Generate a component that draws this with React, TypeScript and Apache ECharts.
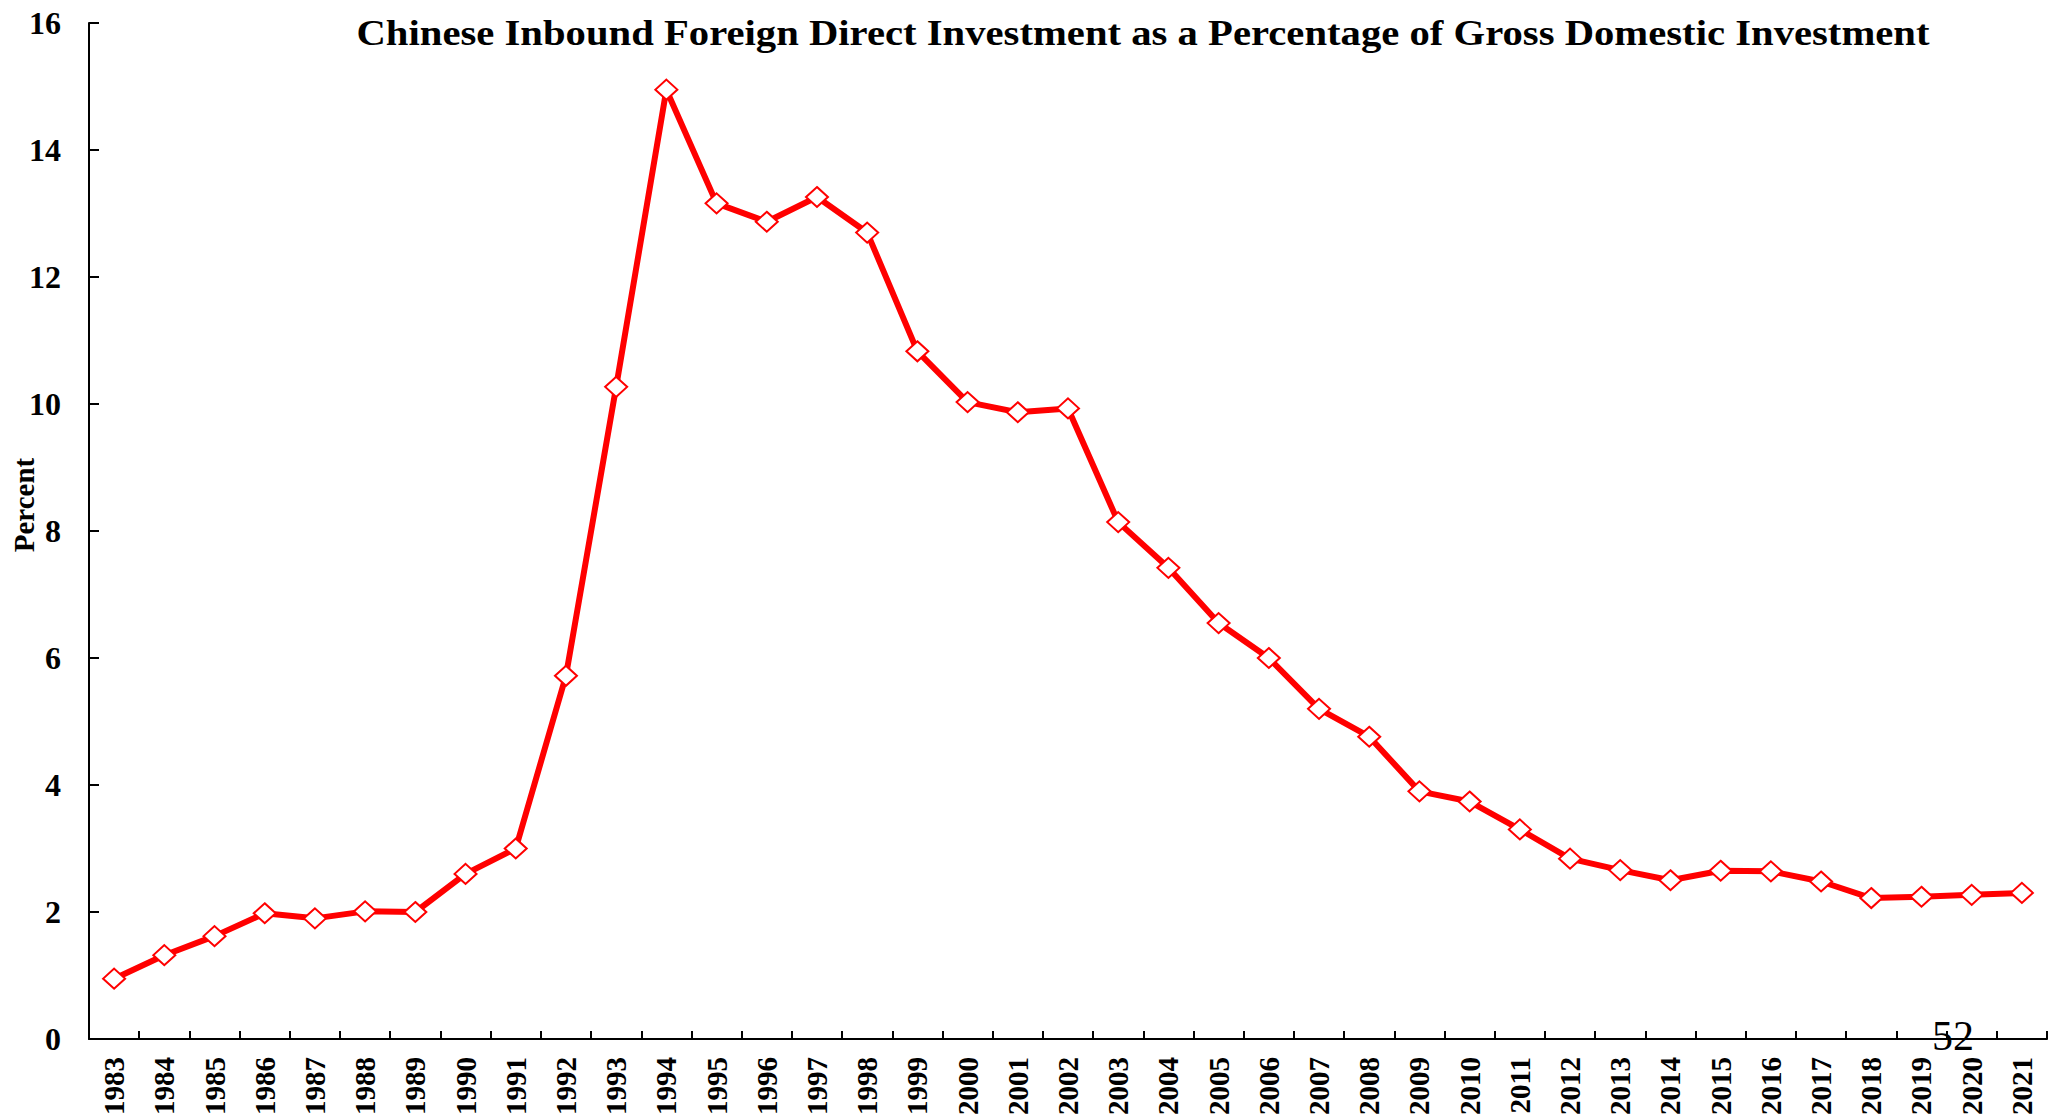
import React, { useEffect, useRef } from "react";
import * as echarts from "echarts";

const years: string[] = [
  "1983", "1984", "1985", "1986", "1987", "1988", "1989", "1990", "1991", "1992",
  "1993", "1994", "1995", "1996", "1997", "1998", "1999", "2000", "2001", "2002",
  "2003", "2004", "2005", "2006", "2007", "2008", "2009", "2010", "2011", "2012",
  "2013", "2014", "2015", "2016", "2017", "2018", "2019", "2020", "2021",
];

const fdiPercent: number[] = [
  0.95, 1.32, 1.62, 1.98, 1.9, 2.01, 2.0, 2.6, 3.0, 5.72,
  10.27, 14.95, 13.16, 12.87, 13.26, 12.7, 10.83, 10.03, 9.87, 9.93,
  8.14, 7.42, 6.55, 6.0, 5.2, 4.76, 3.9, 3.74, 3.3, 2.84,
  2.66, 2.5, 2.65, 2.64, 2.48, 2.22, 2.24, 2.27, 2.3,
];

const yTicks = { min: 0, max: 16, interval: 2 };

const titleText =
  "Chinese Inbound Foreign Direct Investment as a Percentage of Gross Domestic Investment";
const yName = "Percent";
const pageNumber = "52";

const SERIF = '"Liberation Serif", "Times New Roman", serif';

export default function App() {
  const ref = useRef<HTMLDivElement>(null);

  useEffect(() => {
    document.body.style.margin = "0";
    if (!ref.current) return;
    const chart = echarts.init(ref.current, null, { renderer: "svg" });
    chart.setOption({
      animation: false,
      backgroundColor: "#ffffff",
      grid: { left: 89, right: 3, top: 23, bottom: 78, containLabel: false },
      xAxis: {
        type: "category",
        data: years,
        boundaryGap: true,
        axisLine: { show: true, lineStyle: { color: "#000", width: 2 } },
        axisTick: { show: true, inside: true, length: 8, lineStyle: { color: "#000", width: 2 } },
        axisLabel: {
          rotate: 90,
          interval: 0,
          margin: 18,
          fontFamily: SERIF,
          fontWeight: "bold",
          fontSize: 29,
          color: "#000",
        },
        splitLine: { show: false },
      },
      yAxis: {
        type: "value",
        min: yTicks.min,
        max: yTicks.max,
        interval: yTicks.interval,
        axisLine: { show: true, lineStyle: { color: "#000", width: 2 } },
        axisTick: { show: true, inside: true, length: 10, lineStyle: { color: "#000", width: 2 } },
        axisLabel: {
          margin: 28,
          fontFamily: SERIF,
          fontWeight: "bold",
          fontSize: 32,
          color: "#000",
        },
        splitLine: { show: false },
      },
      graphic: [
        {
          type: "text",
          x: 1143,
          y: 33,
          scaleX: 1.13,
          style: {
            text: titleText,
            fontFamily: SERIF,
            fontWeight: "bold",
            fontSize: 36,
            fill: "#000",
            align: "center",
            verticalAlign: "middle",
          },
        },
        {
          type: "text",
          x: 24,
          y: 505,
          rotation: Math.PI / 2,
          style: {
            text: yName,
            fontFamily: SERIF,
            fontWeight: "bold",
            fontSize: 29,
            fill: "#000",
            align: "center",
            verticalAlign: "middle",
          },
        },
        {
          type: "text",
          x: 1953,
          y: 1036,
          style: {
            text: pageNumber,
            fontFamily: SERIF,
            fontSize: 42,
            fill: "#000",
            align: "center",
            verticalAlign: "middle",
          },
          z: 100,
        },
      ],
      series: [
        {
          type: "line",
          data: fdiPercent,
          lineStyle: { color: "#ff0000", width: 6 },
          itemStyle: { color: "#ffffff", borderColor: "#ff0000", borderWidth: 2 },
          symbol: "diamond",
          symbolSize: [22, 20],
          showSymbol: true,
        },
      ],
    });
    return () => chart.dispose();
  }, []);

  return <div ref={ref} style={{ width: 2050, height: 1118 }} />;
}
